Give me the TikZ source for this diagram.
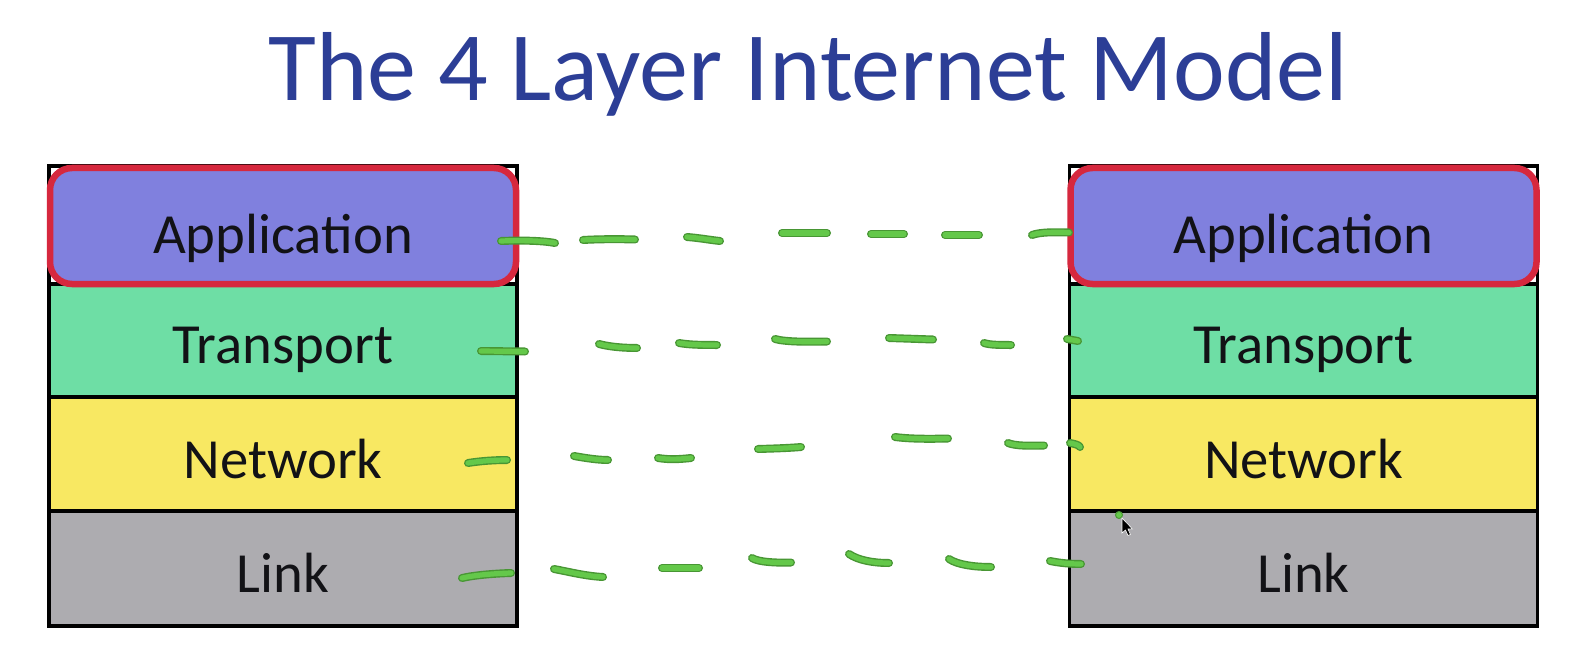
\documentclass[tikz,border=0pt]{standalone}
\usepackage{fontspec}
\setmainfont{Carlito}
\definecolor{titleblue}{RGB}{44,62,150}
\definecolor{appC}{RGB}{128,128,222}
\definecolor{transC}{RGB}{110,222,165}
\definecolor{netC}{RGB}{248,232,98}
\definecolor{linkC}{RGB}{173,172,176}
\definecolor{redC}{RGB}{214,40,62}
\definecolor{inkdark}{RGB}{72,150,52}
\definecolor{inklight}{RGB}{100,200,74}
\definecolor{txt}{RGB}{18,18,22}
\tikzset{
  frame/.style={draw=black, line width=3.2pt, minimum width=468pt, minimum height=460pt, inner sep=0pt},
  layer/.style={draw=black, line width=3.2pt, minimum width=468pt, inner sep=0pt},
  appbox/.style={draw=redC, fill=appC, line width=6.5pt, rounded corners=22pt, minimum width=466pt, minimum height=116pt, inner sep=0pt},
  lbl/.style={anchor=base, text=txt, font=\fontsize{56.7}{60}\selectfont, inner sep=0pt},
  ink/.style={line cap=round, line join=round, draw=inkdark, line width=8pt, postaction={draw=inklight, line width=5.2pt}},
}
\begin{document}
\begin{tikzpicture}[x=1pt,y=-1pt]
\useasboundingbox[fill=white] (0,0) rectangle (1588,658);

\node[anchor=base, text=titleblue, font=\fontsize{98}{100}\selectfont, inner sep=0pt] (title) at (808,101) {The 4 Layer Internet Model};

% left stack
\node[frame] (frameL) at (283,396) {};
\node[layer, fill=transC, minimum height=113pt] (LT) at (283,340.5) {};
\node[layer, fill=netC, minimum height=114pt] (LN) at (283,454) {};
\node[layer, fill=linkC, minimum height=115pt] (LL) at (283,568.5) {};
\node[appbox] (LA) at (283,226) {};
\node[lbl] (LAt) at (283,253) {Application};
\node[lbl] (LTt) at (283,363) {Transport};
\node[lbl] (LNt) at (283,478) {Network};
\node[lbl] (LLt) at (283,592) {Link};

% right stack
\node[frame] (frameR) at (1303.5,396) {};
\node[layer, fill=transC, minimum height=113pt] (RT) at (1303.5,340.5) {};
\node[layer, fill=netC, minimum height=114pt] (RN) at (1303.5,454) {};
\node[layer, fill=linkC, minimum height=115pt] (RL) at (1303.5,568.5) {};
\node[appbox] (RA) at (1303.5,226) {};
\node[lbl] (RAt) at (1303.5,253) {Application};
\node[lbl] (RTt) at (1303.5,363) {Transport};
\node[lbl] (RNt) at (1303.5,478) {Network};
\node[lbl] (RLt) at (1303.5,592) {Link};

% hand-drawn green dashes: Application
\draw[ink] (501,241) .. controls (525,240) and (545,241) .. (555,243);
\draw[ink] (583,240) .. controls (600,239) and (620,239) .. (635,239.5);
\draw[ink] (687,237) .. controls (700,238) and (710,240) .. (720,241);
\draw[ink] (782,233) -- (827,233);
\draw[ink] (871,234) -- (904,234);
\draw[ink] (945,235) -- (979,235);
\draw[ink] (1032,235) .. controls (1040,232) and (1055,232) .. (1069,232.5);
% Transport
\draw[ink] (481,351) -- (525,351.5);
\draw[ink] (599,344) .. controls (610,347) and (625,348) .. (637,348);
\draw[ink] (679,343) .. controls (690,345) and (705,345) .. (717,345);
\draw[ink] (775,339) .. controls (785,342) and (810,342) .. (827,341.5);
\draw[ink] (889,338) -- (933,339.5);
\draw[ink] (984,343) .. controls (990,345) and (1000,345) .. (1011,345);
\draw[ink] (1067,339) -- (1078,341);
% Network
\draw[ink] (468,463) .. controls (480,461) and (495,460) .. (507,460);
\draw[ink] (574,456) .. controls (585,458) and (598,460) .. (608,460);
\draw[ink] (658,458) .. controls (670,460) and (682,459) .. (691,458);
\draw[ink] (758,449) .. controls (775,448.5) and (790,448) .. (801,447);
\draw[ink] (895,437) .. controls (910,439) and (930,439) .. (948,438.5);
\draw[ink] (1008,443) .. controls (1015,446) and (1030,446) .. (1044,445.5);
\draw[ink] (1070,443) .. controls (1075,444) and (1079,445) .. (1080,447);
% Link
\draw[ink] (462,578) .. controls (475,575) and (495,573.5) .. (511,573);
\draw[ink] (554,569) .. controls (570,572) and (585,576) .. (603,577);
\draw[ink] (662,568) -- (699,568);
\draw[ink] (752,558) .. controls (758,562) and (775,563) .. (791,562.5);
\draw[ink] (849,554) .. controls (858,560) and (872,563) .. (889,563);
\draw[ink] (949,559) .. controls (958,565) and (975,567) .. (991,567);
\draw[ink] (1050,561) .. controls (1060,563) and (1070,564) .. (1081,564);
% small green dot and mouse pointer
\fill[inklight, draw=inkdark, line width=1pt] (1119,515) circle (3.5pt);
\filldraw[fill=black, draw=white, line width=0.6pt]
  (1122,518) -- (1122,533) -- (1125.5,530) -- (1128,535.5) -- (1130.5,534.5) -- (1128,529) -- (1132.5,529) -- cycle;
\end{tikzpicture}
\end{document}
